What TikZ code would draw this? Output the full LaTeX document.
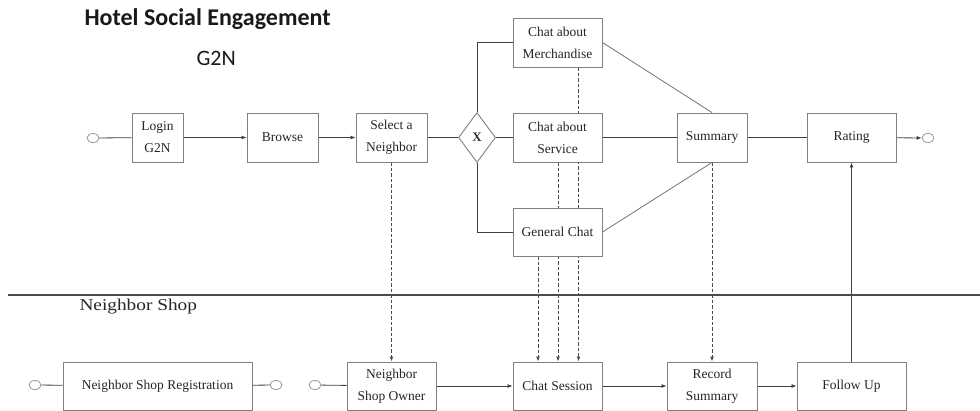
\documentclass[tikz,border=0pt]{standalone}
\usepackage{fontspec}
\setmainfont{Liberation Serif}
\newfontfamily\headfont{Carlito}
\usetikzlibrary{shapes.geometric,arrows.meta,backgrounds,calc}

\begin{document}
\begin{tikzpicture}[x=1pt,y=-1pt,
  box/.style={draw=black!50, line width=0.9pt, fill=white, inner sep=0pt,
    align=center, font=\rmfamily\fontsize{13.5}{22}\selectfont, text=black!85},
  gate/.style={draw=black!50, line width=0.9pt, fill=white, shape=diamond,
    inner sep=0pt, minimum width=37pt, minimum height=50pt,
    font=\rmfamily\fontsize{13}{13}\selectfont\bfseries, text=black!80},
  endpt/.style={draw=black!45, line width=0.7pt, fill=white, ellipse,
    inner sep=0pt, minimum width=12pt, minimum height=9pt},
  flow/.style={draw=black!75, line width=0.8pt},
  arr/.style={flow, -{Latex[length=5pt,width=4pt]}},
  msg/.style={draw=black!70, line width=0.9pt, dash pattern=on 3.5pt off 2pt,
    -{Latex[length=5pt,width=4pt]}}
]
\useasboundingbox (0,0) rectangle (980,410);

% headings
\node[anchor=west, font=\headfont\bfseries\fontsize{24}{24}\selectfont, text=black!90]
  (title) at (81,19) {Hotel Social Engagement};
\node[anchor=west, font=\headfont\fontsize{22}{22}\selectfont, text=black!90]
  (lane1) at (193,58) {G2N};
\node[anchor=west, font=\rmfamily\fontsize{16.5}{16.5}\selectfont, text=black!85]
  (lane2) at (76,307) {\scalebox{1.17}[1]{Neighbor Shop}};

% lane separator
\coordinate (sepL) at (8,295);
\coordinate (sepR) at (980,295);
\draw[draw=black!70, line width=1.6pt] (sepL) -- (sepR);

% G2N lane
\node[endpt] (start1) at (93,138) {};
\node[box, minimum width=51pt, minimum height=49pt] (login) at (157.5,137.5) {Login\\G2N};
\node[box, minimum width=71pt, minimum height=49pt] (browse) at (282.5,137.5) {Browse};
\node[box, minimum width=71pt, minimum height=49pt] (select) at (391.5,137.5) {Select a\\Neighbor};
\node[gate] (xor) at (477,137.5) {X};
\node[box, minimum width=89pt, minimum height=49pt] (merch) at (557.5,42.5) {Chat about\\Merchandise};
\node[box, minimum width=89pt, minimum height=49pt] (service) at (557.5,137.5) {Chat about\\Service};
\node[box, minimum width=89pt, minimum height=48pt] (general) at (557.5,232) {General Chat};
\node[box, minimum width=70pt, minimum height=49pt] (summary) at (712,137.5) {Summary};
\node[box, minimum width=89pt, minimum height=49pt] (rating) at (851.5,137.5) {Rating};
\node[endpt] (end1) at (928,138) {};

% Neighbor Shop lane
\node[endpt] (start2) at (35,385) {};
\node[box, minimum width=189pt, minimum height=48pt] (reg) at (157.5,386) {Neighbor Shop Registration};
\node[endpt] (end2) at (276,385) {};
\node[endpt] (start3) at (315,385) {};
\node[box, minimum width=89pt, minimum height=48pt] (owner) at (391.5,386) {Neighbor\\Shop Owner};
\node[box, minimum width=89pt, minimum height=48pt] (session) at (557.5,386) {Chat Session};
\node[box, minimum width=90pt, minimum height=48pt] (record) at (712,386) {Record\\Summary};
\node[box, minimum width=109pt, minimum height=48pt] (follow) at (851.5,386) {Follow Up};

\begin{scope}[on background layer]
  % sequence flow, G2N
  \draw[flow] (start1) -- (login);
  \draw[arr] (login) -- (browse);
  \draw[arr] (browse) -- (select);
  \draw[flow] (select) -- (xor);
  \draw[flow] (xor) -- (service);
  \draw[flow] (xor.north) |- (merch.west);
  \draw[flow] (xor.south) |- (general.west);
  \draw[flow] (service) -- (summary);
  \draw[flow, draw=black!55] (merch.east) -- (summary.north);
  \draw[flow, draw=black!55] (general.east) -- (summary.south);
  \draw[flow] (summary) -- (rating);
  \draw[arr] (rating) -- (end1);

  % sequence flow, Neighbor Shop
  \draw[flow] (start2) -- (reg);
  \draw[flow] (reg) -- (end2);
  \draw[flow] (start3) -- (owner);
  \draw[arr] (owner) -- (session);
  \draw[arr] (session) -- (record);
  \draw[arr] (record) -- (follow);
  \draw[arr] (follow.north) -- (rating.south);

  % message flows between lanes
  \draw[msg] (select.south) -- (owner.north);
  \draw[msg] ([xshift=21pt]merch.south) -- ([xshift=21pt]session.north);
  \draw[msg] ([xshift=0.5pt]service.south) -- ([xshift=0.5pt]session.north);
  \draw[msg] ([xshift=-19.5pt]general.south) -- ([xshift=-19.5pt]session.north);
  \draw[msg] (summary.south) -- (record.north);
\end{scope}
\end{tikzpicture}
\end{document}
